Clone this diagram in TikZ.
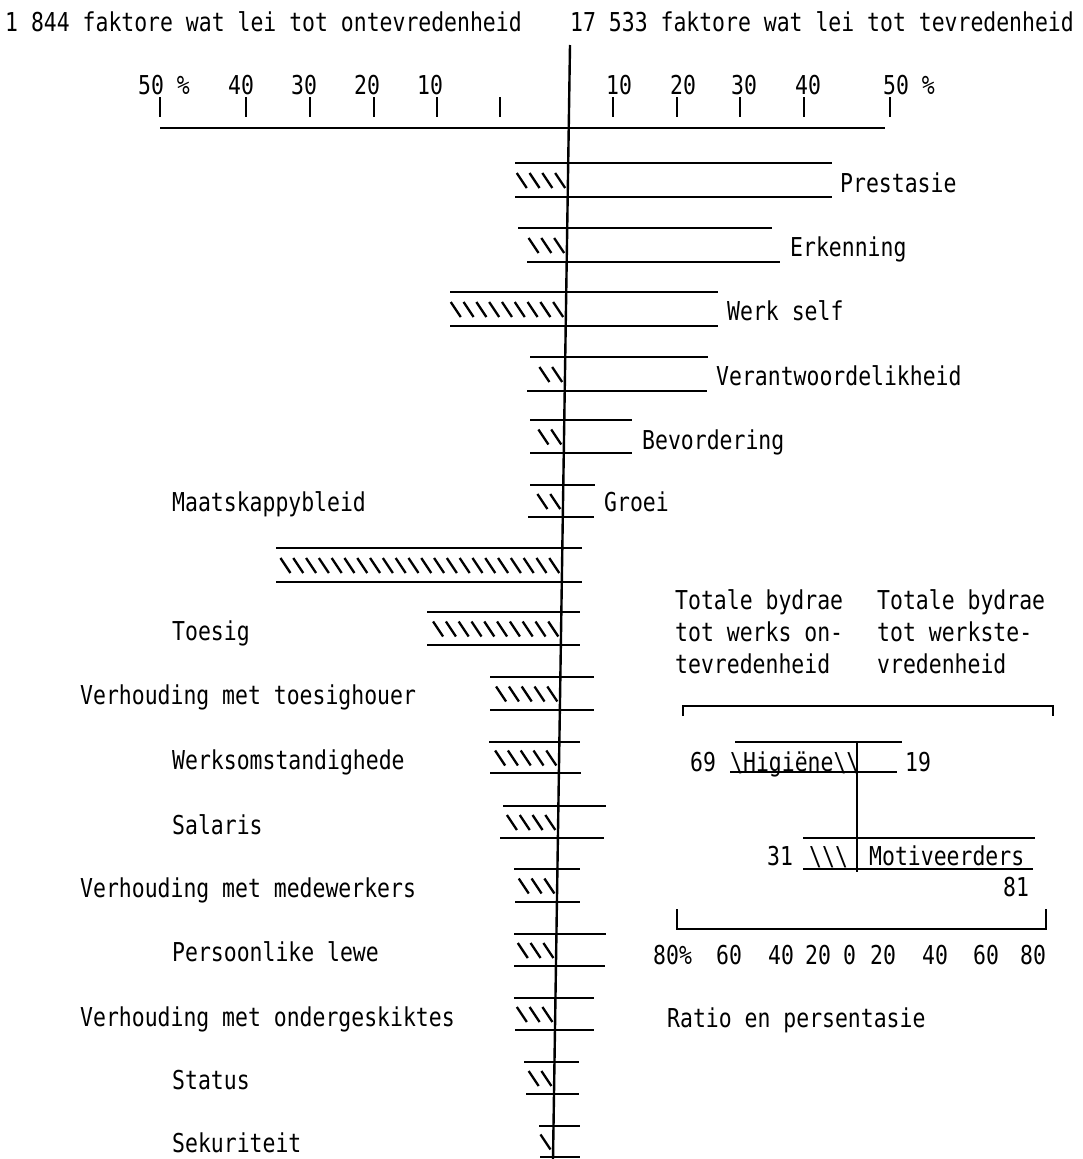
\documentclass[tikz,border=0pt]{standalone}
\usepackage{fontspec}
\newfontfamily\chartfont[FakeStretch=0.825]{DejaVu Sans Mono}
\newcommand\bs{\textbackslash}
% one factor: top line, bottom line and the hatch left of the (slanted) axis
% #1 top y, #2 bottom y, #3/#4 top line ends, #5/#6 bottom line ends, #7 strokes
\newcommand\factorbar[7]{%
  \draw[barline] (#3,#1) -- (#4,#1);
  \draw[barline] (#5,#2) -- (#6,#2);
  \pgfmathsetmacro\yc{(#1+#2)/2}%
  \pgfmathsetmacro\ax{570-0.01526*(\yc-45)}%
  \foreach \k in {1,...,#7}{%
    \draw[hatch] ({\ax-12.8*\k},{\yc-7}) -- ({\ax-12.8*\k+10},{\yc+8});
  }%
}
\begin{document}
\begin{tikzpicture}[x=1pt,y=-1pt,
  txt/.style={font=\chartfont\fontsize{26}{30}\selectfont, anchor=base west, inner sep=0pt},
  barline/.style={line width=1.8pt},
  hatch/.style={line width=2.3pt},
  axisline/.style={line width=2.4pt}]
\useasboundingbox (0,0) rectangle (1083,1159);

% headings
\node[txt] (hleft)  at (5,31)   {1 844 faktore wat lei tot ontevredenheid};
\node[txt] (hright) at (570,31) {17 533 faktore wat lei tot tevredenheid};

% percentage scale
\node[txt] (l50) at (138,94) {50 \%};
\node[txt] (l40) at (228,94) {40};
\node[txt] (l30) at (291,94) {30};
\node[txt] (l20) at (354,94) {20};
\node[txt] (l10) at (417,94) {10};
\node[txt] (r10) at (606,94) {10};
\node[txt] (r20) at (670,94) {20};
\node[txt] (r30) at (731,94) {30};
\node[txt] (r40) at (795,94) {40};
\node[txt] (r50) at (883,94) {50 \%};
\foreach \x in {160,246,310,374,437,500,613,677,740,804,890}
  \draw[barline] (\x,97) -- (\x,117);
\draw[barline] (160,128) -- (885,128);

% central axis
\draw[axisline] (570,45) -- (553,1159);

% factor bars
\factorbar{163}{197}{515}{832}{515}{832}{4}
\factorbar{228}{262}{518}{772}{527}{780}{3}
\factorbar{292}{326}{450}{718}{450}{718}{9}
\factorbar{357}{391}{530}{708}{527}{707}{2}
\factorbar{420}{453}{530}{632}{530}{632}{2}
\factorbar{485}{517}{530}{595}{528}{594}{2}
\factorbar{548}{582}{276}{582}{276}{582}{22}
\factorbar{612}{645}{427}{580}{427}{580}{10}
\factorbar{677}{710}{490}{594}{490}{594}{5}
\factorbar{742}{773}{489}{580}{490}{581}{5}
\factorbar{806}{838}{503}{606}{500}{604}{4}
\factorbar{869}{902}{514}{580}{515}{580}{3}
\factorbar{934}{966}{514}{606}{514}{605}{3}
\factorbar{998}{1030}{514}{594}{515}{594}{3}
\factorbar{1062}{1094}{524}{579}{526}{579}{2}
\factorbar{1126}{1157}{539}{580}{540}{580}{1}

% motivator labels
\node[txt] (prestasie) at (840,192) {Prestasie};
\node[txt] (erkenning) at (790,256) {Erkenning};
\node[txt] (werkself)  at (727,320) {Werk self};
\node[txt] (verantw)   at (716,385) {Verantwoordelikheid};
\node[txt] (bevord)    at (642,449) {Bevordering};
\node[txt] (groei)     at (604,511) {Groei};

% hygiene labels
\node[txt] (beleid)    at (172,511)  {Maatskappybleid};
\node[txt] (toesig)    at (172,640)  {Toesig};
\node[txt] (vtoesig)   at (80,704)   {Verhouding met toesighouer};
\node[txt] (omstand)   at (172,769)  {Werksomstandighede};
\node[txt] (salaris)   at (172,834)  {Salaris};
\node[txt] (vmede)     at (80,897)   {Verhouding met medewerkers};
\node[txt] (lewe)      at (172,961)  {Persoonlike lewe};
\node[txt] (vonder)    at (80,1026)  {Verhouding met ondergeskiktes};
\node[txt] (status)    at (172,1089) {Status};
\node[txt] (sekur)     at (172,1152) {Sekuriteit};

% summary inset
\node[txt] (ta1) at (675,609) {Totale bydrae};
\node[txt] (ta2) at (675,641) {tot werks on-};
\node[txt] (ta3) at (675,673) {tevredenheid};
\node[txt] (tb1) at (877,609) {Totale bydrae};
\node[txt] (tb2) at (877,641) {tot werkste-};
\node[txt] (tb3) at (877,673) {vredenheid};

\draw[barline] (683,716) -- (683,706) -- (1053,706) -- (1053,716);

\draw[barline] (735,742) -- (902,742);
\draw[barline] (730,772) -- (897,772);
\node[txt] (n69) at (690,771) {69};
\node[txt] (hig) at (730,771) {\bs Higiëne\bs\bs};
\node[txt] (n19) at (905,771) {19};

\draw[barline] (857,742) -- (857,872);

\draw[barline] (803,838) -- (1035,838);
\draw[barline] (803,869) -- (1033,869);
\node[txt] (n31) at (767,865) {31};
\node[txt] (mhatch) at (809,865) {\bs\bs\bs};
\node[txt] (motiv) at (869,865) {Motiveerders};
\node[txt] (n81) at (1003,896) {81};

\draw[barline] (677,909) -- (677,929) -- (1046,929) -- (1046,909);
\node[txt] (s80l) at (653,964) {80\%};
\node[txt] (s60l) at (716,964) {60};
\node[txt] (s40l) at (768,964) {40};
\node[txt] (s20l) at (805,964) {20};
\node[txt] (s0)   at (843,964) {0};
\node[txt] (s20r) at (870,964) {20};
\node[txt] (s40r) at (922,964) {40};
\node[txt] (s60r) at (973,964) {60};
\node[txt] (s80r) at (1020,964) {80};

\node[txt] (ratio) at (667,1027) {Ratio en persentasie};
\end{tikzpicture}
\end{document}
